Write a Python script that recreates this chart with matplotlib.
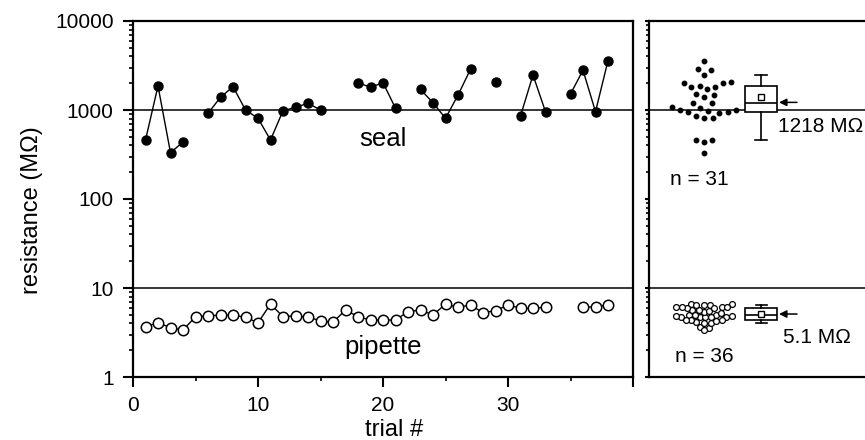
import numpy as np
import matplotlib
matplotlib.use("Agg")
import matplotlib.pyplot as plt
from matplotlib.ticker import NullFormatter, LogLocator

plt.rcParams['font.family'] = ['Liberation Sans', 'DejaVu Sans']

nan = np.nan

trials = np.arange(1, 39)
seal = [460, 1862, 331, 437, nan, 918, 1390, 1828, 1000, 807,
        460, 980, 1070, 1190, 1000, nan, nan, 2027, 1800, 2027,
        1047, nan, 1700, 1207, 807, 1470, 2866, nan, 2080, nan,
        857, 2473, 957, nan, 1513, 2800, 957, 3580]
pipette = [3.67, 4.07, 3.58, 3.37, 4.76, 4.85, 4.97, 4.97, 4.68, 4.07,
           6.6, 4.76, 4.88, 4.68, 4.29, 4.12, 5.66, 4.76, 4.37, 4.37,
           4.37, 5.42, 5.66, 4.97, 6.6, 6.07, 6.44, 5.28, 5.56, 6.44,
           5.92, 5.92, 6.07, nan, nan, 6.07, 6.16, 6.44]

seal_summary = 1218   # MOhm, printed next to the box
pipette_summary = 5.1
x_ticks = [0, 10, 20, 30, 40]
x_labels = ['0', '10', '20', '30', '']
y_ticks = [1, 10, 100, 1000, 10000]
y_labels = ['1', '10', '100', '1000', '10000']

seal = np.array(seal, dtype=float)
pipette = np.array(pipette, dtype=float)
seal_ok = seal[~np.isnan(seal)]
pip_ok = pipette[~np.isnan(pipette)]

W, H = 865, 440
fig = plt.figure(figsize=(W / 100, H / 100), dpi=100)
ax = fig.add_axes([133 / W, 63 / H, 500 / W, 356 / H])
ax2 = fig.add_axes([649 / W, 63 / H, 216 / W, 356 / H])

for a in (ax, ax2):
    a.set_yscale('log')
    a.set_ylim(1, 10000)
    a.axhline(1000, color='black', lw=1.1, zorder=1)
    a.axhline(10, color='black', lw=1.1, zorder=1)
    for s in a.spines.values():
        s.set_linewidth(1.6)
    a.yaxis.set_minor_locator(LogLocator(base=10, subs=np.arange(2, 10)))
    a.yaxis.set_minor_formatter(NullFormatter())

# ---- left panel: trial by trial
ax.plot(trials, seal, '-', color='black', lw=1, marker='o', ms=6.5,
        mfc='black', mec='black', zorder=3)
ax.plot(trials, pipette, '-', color='black', lw=1, marker='o', ms=7.5,
        mfc='white', mec='black', mew=1.1, zorder=3)

ax.set_xlim(0, 40)
ax.set_xticks(x_ticks, labels=x_labels)
ax.set_xticks([5, 15, 25, 35], minor=True)
ax.set_yticks(y_ticks, labels=y_labels)
ax.tick_params(axis='both', which='major', direction='out', length=7,
               width=1.5, labelsize=15, pad=7)
ax.tick_params(axis='both', which='minor', direction='out', length=3,
               width=1.2)

ax.text(20, 394, 'seal', ha='center', va='baseline', fontsize=18.5)
ax.text(20, 1.81, 'pipette', ha='center', va='baseline', fontsize=18.5)

ax.set_xlabel('trial #', fontsize=17)
ax.xaxis.set_label_coords(0.522, -0.118)
ax.set_ylabel('resistance (M\u03a9)', fontsize=17)
ax.yaxis.set_label_coords(-0.18, 0.47)

# ---- right panel: pooled values + box plots
ax2.set_xlim(0, 216)
ax2.spines['right'].set_visible(False)
ax2.set_xticks([])
ax2.set_yticks(y_ticks)
ax2.tick_params(axis='y', which='major', direction='out', length=3,
                width=1.5, labelleft=False)
ax2.tick_params(axis='y', which='minor', direction='out', length=2,
                width=1.2)

dot_x, box_x = 55, 112


def swarm_x(a, x0, vals, d):
    # simple beeswarm in display pixels
    pts = a.transData.transform(np.column_stack([np.full(len(vals), x0), vals]))
    ys = pts[:, 1]
    xs = np.full(len(vals), nan)
    done = []
    for i in np.argsort(ys):
        cands = [0.0]
        for j in done:
            dy = ys[i] - ys[j]
            if abs(dy) < d:
                dx = np.sqrt(d * d - dy * dy)
                cands += [xs[j] + dx, xs[j] - dx]
        cands.sort(key=abs)
        for c in cands:
            if all((c - xs[j]) ** 2 + (ys[i] - ys[j]) ** 2 >= d * d - 1e-6 for j in done):
                xs[i] = c
                break
        done.append(i)
    disp = np.column_stack([pts[:, 0] + xs, ys])
    return a.transData.inverted().transform(disp)[:, 0]


ax2.plot(swarm_x(ax2, dot_x, seal_ok, 8.5), seal_ok, 'o', ms=3.2,
         color='black', zorder=3)
ax2.plot(swarm_x(ax2, dot_x, pip_ok, 5.5), pip_ok, 'o', ms=4.2, mfc='white',
         mec='black', mew=0.9, zorder=3)

common = dict(positions=[box_x], widths=32, whis=(10, 90), showfliers=False,
              showmeans=True, manage_ticks=False, patch_artist=True,
              boxprops=dict(facecolor='white', edgecolor='black', lw=1.2),
              whiskerprops=dict(color='black', lw=1.2),
              capprops=dict(color='black', lw=1.2),
              medianprops=dict(color='black', lw=1.2),
              meanprops=dict(marker='s', ms=4, mfc='white', mec='black', mew=1))
ax2.boxplot([seal_ok], capwidths=12, **common)
ax2.boxplot([pip_ok], capwidths=11, **common)

arrow = dict(arrowstyle='-|>', color='black', lw=1.1, mutation_scale=11,
             shrinkA=0, shrinkB=0)
ax2.annotate('', xy=(130, seal_summary), xytext=(148, seal_summary),
             arrowprops=arrow)
ax2.annotate('', xy=(130, pipette_summary), xytext=(148, pipette_summary),
             arrowprops=arrow)

ax2.text(129, 570, f'{seal_summary} M\u03a9', ha='left', va='baseline',
         fontsize=15)
ax2.text(134, 2.39, f'{pipette_summary} M\u03a9', ha='left', va='baseline',
         fontsize=15)
ax2.text(21, 143.6, f'n = {len(seal_ok)}', ha='left', va='baseline', fontsize=15)
ax2.text(26, 1.49, f'n = {len(pip_ok)}', ha='left', va='baseline', fontsize=15)

fig.savefig('out.png', dpi=100)
